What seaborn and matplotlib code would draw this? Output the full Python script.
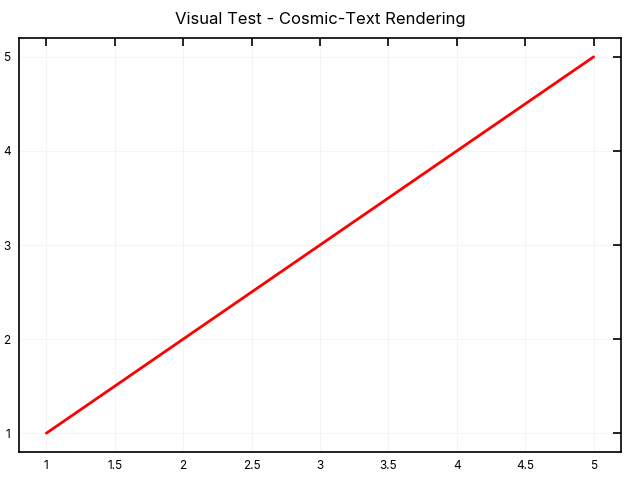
import matplotlib
matplotlib.use("Agg")
import matplotlib.pyplot as plt
import seaborn as sns
import pandas as pd

x_values = [1, 2, 3, 4, 5]
y_values = [1, 2, 3, 4, 5]
x_ticks = [1, 1.5, 2, 2.5, 3, 3.5, 4, 4.5, 5]
x_tick_labels = ["1", "1.5", "2", "2.5", "3", "3.5", "4", "4.5", "5"]
y_ticks = [1, 2, 3, 4, 5]
y_tick_labels = ["1", "2", "3", "4", "5"]
title = "Visual Test - Cosmic-Text Rendering"

sns.set_theme(style="white")
plt.rcParams["font.family"] = ["Inter", "DejaVu Sans"]

df = pd.DataFrame({"x": x_values, "y": y_values})

fig = plt.figure(figsize=(6.4, 4.8), dpi=100)
ax = fig.add_axes([0.0297, 0.0583, 0.9406, 0.8625])
sns.lineplot(data=df, x="x", y="y", ax=ax, color="#ff0000", linewidth=2)

ax.set_xlim(0.8, 5.2)
ax.set_ylim(0.8, 5.2)
ax.set_xticks(x_ticks)
ax.set_xticklabels(x_tick_labels)
ax.set_yticks(y_ticks)
ax.set_yticklabels(y_tick_labels)
ax.set_xlabel("")
ax.set_ylabel("")
ax.grid(True, color="#f2f2f2", linewidth=0.6)
ax.tick_params(direction="in", length=6, width=1.2, color="black",
               top=True, right=True, labeltop=False, labelright=False,
               labelsize=8.5, pad=6, labelcolor="black")
for s in ax.spines.values():
    s.set_visible(True)
    s.set_color("black")
    s.set_linewidth(1.2)
ax.set_title(title, fontsize=12, pad=10, color="black")

fig.savefig("out.png", dpi=100)
